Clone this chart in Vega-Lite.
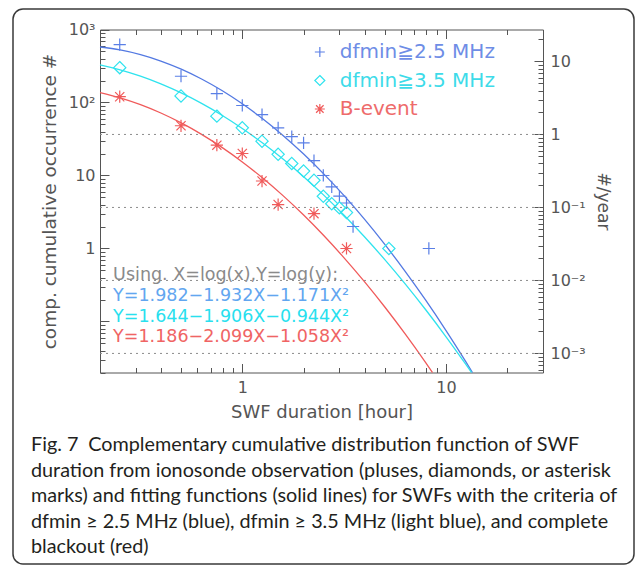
{
  "$schema": "https://vega.github.io/schema/vega-lite/v6.json",
  "width": 621,
  "height": 555,
  "autosize": {"type": "none"},
  "padding": {"left": 13, "top": 9, "right": 3, "bottom": 5},
  "background": "white",
  "config": {
    "view": {"stroke": "#3a3a3a", "strokeWidth": 1.5, "cornerRadius": 10, "fill": "white"},
    "axis": {
      "domainColor": "#555555", "tickColor": "#555555", "labelColor": "#555555", "titleColor": "#555555",
      "labelFont": "DejaVu Sans", "titleFont": "DejaVu Sans", "labelFontSize": 16, "titleFontSize": 18,
      "titleFontWeight": "normal", "grid": false, "labelOverlap": false, "labelFlush": false,
      "domainWidth": 1, "tickWidth": 1
    }
  },
  "title": {
    "text": [
      "Fig. 7\u2002Complementary cumulative distribution function of SWF",
      "duration from ionosonde observation (pluses, diamonds, or asterisk",
      "marks) and fitting functions (solid lines) for SWFs with the criteria of",
      "dfmin ≥ 2.5 MHz (blue), dfmin ≥ 3.5 MHz (light blue), and complete",
      "blackout (red)"
    ],
    "orient": "bottom", "anchor": "start", "frame": "group", "offset": -129, "dx": 18,
    "font": "Lato", "fontSize": 19.8, "fontWeight": "normal", "color": "#231f20",
    "lineHeight": 25.5
  },
  "datasets": {
    "pts": [
      {"series": "dfmin≧2.5 MHz", "x": 0.25, "y": 620},
      {"series": "dfmin≧2.5 MHz", "x": 0.5, "y": 229},
      {"series": "dfmin≧2.5 MHz", "x": 0.75, "y": 132},
      {"series": "dfmin≧2.5 MHz", "x": 1.0, "y": 91},
      {"series": "dfmin≧2.5 MHz", "x": 1.25, "y": 68},
      {"series": "dfmin≧2.5 MHz", "x": 1.5, "y": 45},
      {"series": "dfmin≧2.5 MHz", "x": 1.75, "y": 34},
      {"series": "dfmin≧2.5 MHz", "x": 2.0, "y": 28},
      {"series": "dfmin≧2.5 MHz", "x": 2.25, "y": 16},
      {"series": "dfmin≧2.5 MHz", "x": 2.5, "y": 10},
      {"series": "dfmin≧2.5 MHz", "x": 2.75, "y": 7},
      {"series": "dfmin≧2.5 MHz", "x": 3.0, "y": 5.2},
      {"series": "dfmin≧2.5 MHz", "x": 3.25, "y": 4.2},
      {"series": "dfmin≧2.5 MHz", "x": 3.5, "y": 2},
      {"series": "dfmin≧2.5 MHz", "x": 8.25, "y": 1},
      {"series": "dfmin≧3.5 MHz", "x": 0.25, "y": 300},
      {"series": "dfmin≧3.5 MHz", "x": 0.5, "y": 123},
      {"series": "dfmin≧3.5 MHz", "x": 0.75, "y": 65},
      {"series": "dfmin≧3.5 MHz", "x": 1.0, "y": 45},
      {"series": "dfmin≧3.5 MHz", "x": 1.25, "y": 29.5},
      {"series": "dfmin≧3.5 MHz", "x": 1.5, "y": 19.5},
      {"series": "dfmin≧3.5 MHz", "x": 1.75, "y": 14.6},
      {"series": "dfmin≧3.5 MHz", "x": 2.0, "y": 11.5},
      {"series": "dfmin≧3.5 MHz", "x": 2.25, "y": 8.6},
      {"series": "dfmin≧3.5 MHz", "x": 2.5, "y": 5.2},
      {"series": "dfmin≧3.5 MHz", "x": 2.75, "y": 4.1},
      {"series": "dfmin≧3.5 MHz", "x": 3.0, "y": 3.6},
      {"series": "dfmin≧3.5 MHz", "x": 3.25, "y": 3.1},
      {"series": "dfmin≧3.5 MHz", "x": 5.25, "y": 1},
      {"series": "B-event", "x": 0.25, "y": 120},
      {"series": "B-event", "x": 0.5, "y": 48},
      {"series": "B-event", "x": 0.75, "y": 26},
      {"series": "B-event", "x": 1.0, "y": 20},
      {"series": "B-event", "x": 1.25, "y": 8.4},
      {"series": "B-event", "x": 1.5, "y": 4},
      {"series": "B-event", "x": 2.25, "y": 3},
      {"series": "B-event", "x": 3.25, "y": 1}
    ],
    "fit": [
      {"series": "dfmin≧2.5 MHz", "x": 0.2, "y": 575.8},
      {"series": "dfmin≧2.5 MHz", "x": 0.2512, "y": 524.3},
      {"series": "dfmin≧2.5 MHz", "x": 0.3162, "y": 452.1},
      {"series": "dfmin≧2.5 MHz", "x": 0.3981, "y": 369.3},
      {"series": "dfmin≧2.5 MHz", "x": 0.5012, "y": 285.9},
      {"series": "dfmin≧2.5 MHz", "x": 0.631, "y": 209.7},
      {"series": "dfmin≧2.5 MHz", "x": 0.7943, "y": 145.7},
      {"series": "dfmin≧2.5 MHz", "x": 1.0, "y": 95.9},
      {"series": "dfmin≧2.5 MHz", "x": 1.2589, "y": 59.9},
      {"series": "dfmin≧2.5 MHz", "x": 1.5849, "y": 35.4},
      {"series": "dfmin≧2.5 MHz", "x": 1.9953, "y": 19.82},
      {"series": "dfmin≧2.5 MHz", "x": 2.5119, "y": 10.51},
      {"series": "dfmin≧2.5 MHz", "x": 3.1623, "y": 5.288},
      {"series": "dfmin≧2.5 MHz", "x": 3.981, "y": 2.519},
      {"series": "dfmin≧2.5 MHz", "x": 5.0119, "y": 1.137},
      {"series": "dfmin≧2.5 MHz", "x": 6.3096, "y": 0.4864},
      {"series": "dfmin≧2.5 MHz", "x": 7.9433, "y": 0.1971},
      {"series": "dfmin≧2.5 MHz", "x": 10.0, "y": 0.07568},
      {"series": "dfmin≧2.5 MHz", "x": 12.589, "y": 0.02753},
      {"series": "dfmin≧2.5 MHz", "x": 13.51, "y": 0.02},
      {"series": "dfmin≧3.5 MHz", "x": 0.2, "y": 327.4},
      {"series": "dfmin≧3.5 MHz", "x": 0.2512, "y": 280.4},
      {"series": "dfmin≧3.5 MHz", "x": 0.3162, "y": 229.6},
      {"series": "dfmin≧3.5 MHz", "x": 0.3981, "y": 180.0},
      {"series": "dfmin≧3.5 MHz", "x": 0.5012, "y": 135.1},
      {"series": "dfmin≧3.5 MHz", "x": 0.631, "y": 97.1},
      {"series": "dfmin≧3.5 MHz", "x": 0.7943, "y": 66.88},
      {"series": "dfmin≧3.5 MHz", "x": 1.0, "y": 44.06},
      {"series": "dfmin≧3.5 MHz", "x": 1.2589, "y": 27.8},
      {"series": "dfmin≧3.5 MHz", "x": 1.5849, "y": 16.79},
      {"series": "dfmin≧3.5 MHz", "x": 1.9953, "y": 9.71},
      {"series": "dfmin≧3.5 MHz", "x": 2.5119, "y": 5.378},
      {"series": "dfmin≧3.5 MHz", "x": 3.1623, "y": 2.851},
      {"series": "dfmin≧3.5 MHz", "x": 3.981, "y": 1.447},
      {"series": "dfmin≧3.5 MHz", "x": 5.0119, "y": 0.7036},
      {"series": "dfmin≧3.5 MHz", "x": 6.3096, "y": 0.3273},
      {"series": "dfmin≧3.5 MHz", "x": 7.9433, "y": 0.1459},
      {"series": "dfmin≧3.5 MHz", "x": 10.0, "y": 0.06223},
      {"series": "dfmin≧3.5 MHz", "x": 12.589, "y": 0.02542},
      {"series": "dfmin≧3.5 MHz", "x": 13.37, "y": 0.02},
      {"series": "B-event", "x": 0.2, "y": 136.9},
      {"series": "B-event", "x": 0.2512, "y": 116.0},
      {"series": "B-event", "x": 0.3162, "y": 93.54},
      {"series": "B-event", "x": 0.3981, "y": 71.84},
      {"series": "B-event", "x": 0.5012, "y": 52.54},
      {"series": "B-event", "x": 0.631, "y": 36.61},
      {"series": "B-event", "x": 0.7943, "y": 24.29},
      {"series": "B-event", "x": 1.0, "y": 15.35},
      {"series": "B-event", "x": 1.2589, "y": 9.237},
      {"series": "B-event", "x": 1.5849, "y": 5.296},
      {"series": "B-event", "x": 1.9953, "y": 2.891},
      {"series": "B-event", "x": 2.5119, "y": 1.504},
      {"series": "B-event", "x": 3.1623, "y": 0.7447},
      {"series": "B-event", "x": 3.981, "y": 0.3513},
      {"series": "B-event", "x": 5.0119, "y": 0.1579},
      {"series": "B-event", "x": 6.3096, "y": 0.06756},
      {"series": "B-event", "x": 7.9433, "y": 0.02754},
      {"series": "B-event", "x": 8.6, "y": 0.02}
    ],
    "yr": [{"yr": 1}, {"yr": 0.1}, {"yr": 0.01}, {"yr": 0.001}]
  },
  "layer": [
    {
      "data": {"name": "fit"},
      "mark": {"type": "line", "strokeWidth": 1.3, "interpolate": "monotone"},
      "encoding": {
        "x": {
          "field": "x", "type": "quantitative",
          "scale": {"type": "log", "domain": [0.2, 30], "range": [87, 530], "nice": false},
          "axis": {
            "orient": "bottom", "offset": -191.5,
            "values": [0.2, 0.3, 0.4, 0.5, 0.6, 0.7, 0.8, 0.9, 1, 2, 3, 4, 5, 6, 7, 8, 9, 10, 20, 30],
            "labelExpr": "datum.value == 1 ? '1' : datum.value == 10 ? '10' : ''",
            "tickSize": {"condition": {"test": "datum.value == 1 || datum.value == 10", "value": -9}, "value": -5},
            "labelPadding": 16, "title": "SWF duration [hour]", "titlePadding": 4
          }
        },
        "y": {
          "field": "y", "type": "quantitative",
          "scale": {"type": "log", "domain": [0.02, 1000], "range": [363.5, 20.5], "nice": false},
          "axis": {
            "orient": "left", "offset": -87,
            "values": [0.02, 0.03, 0.04, 0.05, 0.06, 0.07, 0.08, 0.09, 0.1, 0.2, 0.3, 0.4, 0.5, 0.6, 0.7, 0.8, 0.9, 1, 2, 3, 4, 5, 6, 7, 8, 9, 10, 20, 30, 40, 50, 60, 70, 80, 90, 100, 200, 300, 400, 500, 600, 700, 800, 900, 1000],
            "labelExpr": "datum.value == 1000 ? '10³' : datum.value == 100 ? '10²' : datum.value == 10 ? '10' : datum.value == 1 ? '1' : ''",
            "tickSize": {"condition": {"test": "datum.value == 1000 || datum.value == 100 || datum.value == 10 || datum.value == 1 || datum.value == 0.1", "value": -9}, "value": -5},
            "labelPadding": 14, "title": "comp. cumulative occurrence #", "titlePadding": 9, "titleFontSize": 18.5
          }
        },
        "stroke": {
          "field": "series", "type": "nominal",
          "scale": {"domain": ["dfmin≧2.5 MHz", "dfmin≧3.5 MHz", "B-event"], "range": ["#5379e2", "#2fe3ee", "#f05a5a"]},
          "legend": null
        }
      }
    },
    {
      "data": {"name": "pts"},
      "mark": {"type": "point", "filled": false, "strokeWidth": 1.2, "size": 150, "opacity": 1},
      "encoding": {
        "x": {"field": "x", "type": "quantitative", "scale": {"type": "log", "domain": [0.2, 30], "range": [87, 530], "nice": false}, "axis": null},
        "y": {"field": "y", "type": "quantitative", "scale": {"type": "log", "domain": [0.02, 1000], "range": [363.5, 20.5], "nice": false}, "axis": null},
        "color": {
          "field": "series", "type": "nominal",
          "scale": {"domain": ["dfmin≧2.5 MHz", "dfmin≧3.5 MHz", "B-event"], "range": ["#5a7fe6", "#2fe3ee", "#f05a5a"]},
          "legend": null
        },
        "shape": {
          "field": "series", "type": "nominal",
          "scale": {"domain": ["dfmin≧2.5 MHz", "dfmin≧3.5 MHz", "B-event"], "range": ["M-1,0L1,0M0,-1L0,1", "M0,-1L1,0L0,1L-1,0Z", "M-1,0L1,0M0,-1L0,1M-0.75,-0.75L0.75,0.75M-0.75,0.75L0.75,-0.75"]},
          "legend": null
        }
      }
    },
    {
      "data": {"values": [{"t": "dfmin≧2.5 MHz"}]},
      "mark": {"type": "point", "shape": "M-1,0L1,0M0,-1L0,1", "filled": false, "strokeWidth": 1.2, "size": 100, "color": "#5a7fe6", "opacity": 1},
      "encoding": {
        "x": {"datum": 2.404, "type": "quantitative", "scale": {"type": "log", "domain": [0.2, 30], "range": [87, 530], "nice": false}, "axis": null},
        "y": {"datum": 492, "type": "quantitative", "scale": {"type": "log", "domain": [0.02, 1000], "range": [363.5, 20.5], "nice": false}, "axis": null}
      }
    },
    {
      "data": {"values": [{"t": "dfmin≧3.5 MHz"}]},
      "mark": {"type": "point", "shape": "M0,-1L1,0L0,1L-1,0Z", "filled": false, "strokeWidth": 1.2, "size": 100, "color": "#2fe3ee", "opacity": 1},
      "encoding": {
        "x": {"datum": 2.404, "type": "quantitative", "scale": {"type": "log", "domain": [0.2, 30], "range": [87, 530], "nice": false}, "axis": null},
        "y": {"datum": 200, "type": "quantitative", "scale": {"type": "log", "domain": [0.02, 1000], "range": [363.5, 20.5], "nice": false}, "axis": null}
      }
    },
    {
      "data": {"values": [{"t": "B-event"}]},
      "mark": {"type": "point", "shape": "M-1,0L1,0M0,-1L0,1M-0.75,-0.75L0.75,0.75M-0.75,0.75L0.75,-0.75", "filled": false, "strokeWidth": 1.2, "size": 100, "color": "#f05a5a", "opacity": 1},
      "encoding": {
        "x": {"datum": 2.404, "type": "quantitative", "scale": {"type": "log", "domain": [0.2, 30], "range": [87, 530], "nice": false}, "axis": null},
        "y": {"datum": 81.4, "type": "quantitative", "scale": {"type": "log", "domain": [0.02, 1000], "range": [363.5, 20.5], "nice": false}, "axis": null}
      }
    },
    {
      "data": {"values": [{"t": "dfmin≧2.5 MHz"}]},
      "mark": {"type": "text", "align": "left", "baseline": "middle", "font": "DejaVu Sans", "fontSize": 20, "color": "#6e8de6"},
      "encoding": {
        "x": {"datum": 3.01, "type": "quantitative", "scale": {"type": "log", "domain": [0.2, 30], "range": [87, 530], "nice": false}, "axis": null},
        "y": {"datum": 492, "type": "quantitative", "scale": {"type": "log", "domain": [0.02, 1000], "range": [363.5, 20.5], "nice": false}, "axis": null},
        "text": {"field": "t"}
      }
    },
    {
      "data": {"values": [{"t": "dfmin≧3.5 MHz"}]},
      "mark": {"type": "text", "align": "left", "baseline": "middle", "font": "DejaVu Sans", "fontSize": 20, "color": "#3ddbe9"},
      "encoding": {
        "x": {"datum": 3.01, "type": "quantitative", "scale": {"type": "log", "domain": [0.2, 30], "range": [87, 530], "nice": false}, "axis": null},
        "y": {"datum": 200, "type": "quantitative", "scale": {"type": "log", "domain": [0.02, 1000], "range": [363.5, 20.5], "nice": false}, "axis": null},
        "text": {"field": "t"}
      }
    },
    {
      "data": {"values": [{"t": "B-event"}]},
      "mark": {"type": "text", "align": "left", "baseline": "middle", "font": "DejaVu Sans", "fontSize": 20, "color": "#ee6b6b"},
      "encoding": {
        "x": {"datum": 3.01, "type": "quantitative", "scale": {"type": "log", "domain": [0.2, 30], "range": [87, 530], "nice": false}, "axis": null},
        "y": {"datum": 81.4, "type": "quantitative", "scale": {"type": "log", "domain": [0.02, 1000], "range": [363.5, 20.5], "nice": false}, "axis": null},
        "text": {"field": "t"}
      }
    },
    {
      "data": {"values": [{"t": "Using. X=log(x),Y=log(y):"}]},
      "mark": {"type": "text", "align": "left", "baseline": "middle", "font": "DejaVu Sans", "fontSize": 17.5, "color": "#8a8a8a"},
      "encoding": {
        "x": {"datum": 0.232, "type": "quantitative", "scale": {"type": "log", "domain": [0.2, 30], "range": [87, 530], "nice": false}, "axis": null},
        "y": {"datum": 0.427, "type": "quantitative", "scale": {"type": "log", "domain": [0.02, 1000], "range": [363.5, 20.5], "nice": false}, "axis": null},
        "text": {"field": "t"}
      }
    },
    {
      "data": {"values": [{"t": "Y=1.982−1.932X−1.171X²"}]},
      "mark": {"type": "text", "align": "left", "baseline": "middle", "font": "DejaVu Sans", "fontSize": 17.5, "color": "#62a6f0"},
      "encoding": {
        "x": {"datum": 0.232, "type": "quantitative", "scale": {"type": "log", "domain": [0.2, 30], "range": [87, 530], "nice": false}, "axis": null},
        "y": {"datum": 0.222, "type": "quantitative", "scale": {"type": "log", "domain": [0.02, 1000], "range": [363.5, 20.5], "nice": false}, "axis": null},
        "text": {"field": "t"}
      }
    },
    {
      "data": {"values": [{"t": "Y=1.644−1.906X−0.944X²"}]},
      "mark": {"type": "text", "align": "left", "baseline": "middle", "font": "DejaVu Sans", "fontSize": 17.5, "color": "#28e0ee"},
      "encoding": {
        "x": {"datum": 0.232, "type": "quantitative", "scale": {"type": "log", "domain": [0.2, 30], "range": [87, 530], "nice": false}, "axis": null},
        "y": {"datum": 0.1135, "type": "quantitative", "scale": {"type": "log", "domain": [0.02, 1000], "range": [363.5, 20.5], "nice": false}, "axis": null},
        "text": {"field": "t"}
      }
    },
    {
      "data": {"values": [{"t": "Y=1.186−2.099X−1.058X²"}]},
      "mark": {"type": "text", "align": "left", "baseline": "middle", "font": "DejaVu Sans", "fontSize": 17.5, "color": "#f06464"},
      "encoding": {
        "x": {"datum": 0.232, "type": "quantitative", "scale": {"type": "log", "domain": [0.2, 30], "range": [87, 530], "nice": false}, "axis": null},
        "y": {"datum": 0.0604, "type": "quantitative", "scale": {"type": "log", "domain": [0.02, 1000], "range": [363.5, 20.5], "nice": false}, "axis": null},
        "text": {"field": "t"}
      }
    },
    {
      "data": {"name": "yr"},
      "mark": {"type": "rule", "strokeDash": [2, 4], "color": "#8c8c8c", "strokeWidth": 1},
      "encoding": {
        "x": {
          "datum": 0.2, "type": "quantitative",
          "scale": {"type": "log", "domain": [0.2, 30], "range": [87, 530], "nice": false},
          "axis": {
            "orient": "top", "offset": -20.5, "labels": false, "title": null,
            "values": [0.2, 0.3, 0.4, 0.5, 0.6, 0.7, 0.8, 0.9, 1, 2, 3, 4, 5, 6, 7, 8, 9, 10, 20, 30],
            "tickSize": {"condition": {"test": "datum.value == 1 || datum.value == 10", "value": -9}, "value": -5}
          }
        },
        "x2": {"datum": 30},
        "y": {
          "field": "yr", "type": "quantitative",
          "scale": {"type": "log", "domain": [0.000548, 27.4], "range": [363.5, 20.5], "nice": false},
          "axis": {
            "orient": "right", "offset": -91,
            "values": [0.0006, 0.0007, 0.0008, 0.0009, 0.001, 0.002, 0.003, 0.004, 0.005, 0.006, 0.007, 0.008, 0.009, 0.01, 0.02, 0.03, 0.04, 0.05, 0.06, 0.07, 0.08, 0.09, 0.1, 0.2, 0.3, 0.4, 0.5, 0.6, 0.7, 0.8, 0.9, 1, 2, 3, 4, 5, 6, 7, 8, 9, 10, 20],
            "labelExpr": "datum.value == 10 ? '10' : datum.value == 1 ? '1' : datum.value == 0.1 ? '10⁻¹' : datum.value == 0.01 ? '10⁻²' : datum.value == 0.001 ? '10⁻³' : ''",
            "tickSize": {"condition": {"test": "datum.value == 10 || datum.value == 1 || datum.value == 0.1 || datum.value == 0.01 || datum.value == 0.001", "value": -9}, "value": -5},
            "labelPadding": 16, "title": "#/year", "titlePadding": 8, "titleFontSize": 17
          }
        }
      }
    }
  ],
  "resolve": {"scale": {"y": "independent"}, "axis": {"x": "independent"}}
}
